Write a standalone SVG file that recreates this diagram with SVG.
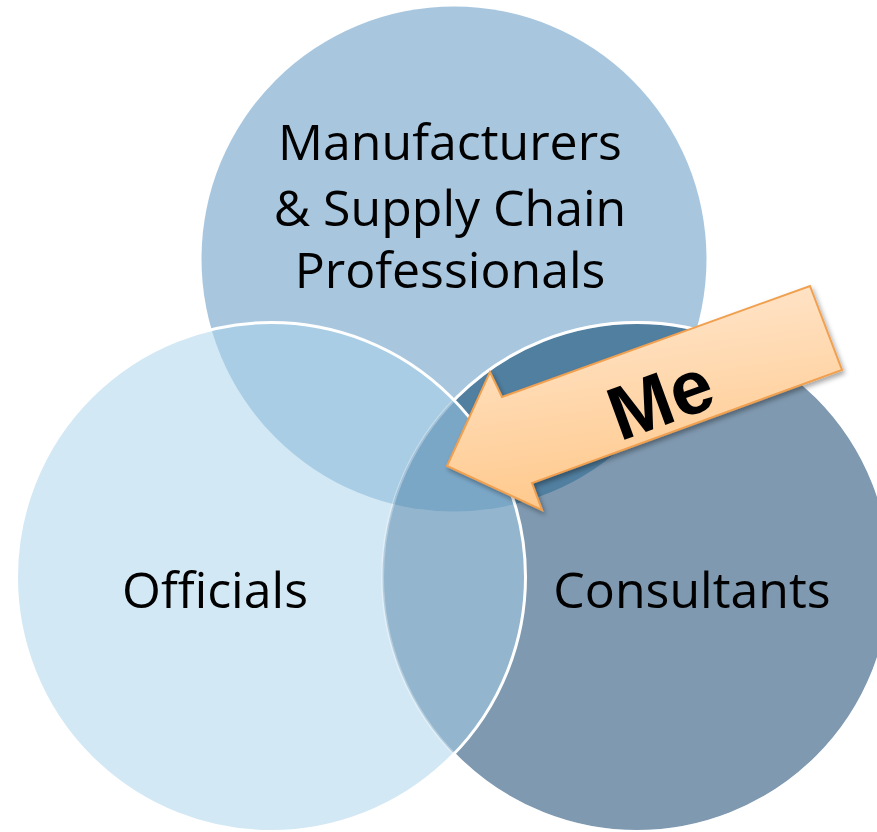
<svg xmlns="http://www.w3.org/2000/svg" width="877" height="832" viewBox="0 0 877 832">
<style>
.lbl{font-family:"Open Sans","Noto Sans","Liberation Sans",sans-serif;font-size:50px;fill:#000;text-anchor:middle}
.me{font-family:"Liberation Sans","Arial",sans-serif;font-weight:bold;font-size:76px;fill:#000;text-anchor:middle}
</style>
<defs>
<clipPath id="cT"><circle cx="454" cy="259" r="252.5"/></clipPath>
<clipPath id="cL"><circle cx="271" cy="577" r="254.5"/></clipPath>
<clipPath id="cR"><circle cx="637" cy="577" r="254.5"/></clipPath>
<mask id="outL"><rect width="877" height="832" fill="#fff"/><circle cx="271" cy="577" r="254.5" fill="#000"/></mask>
<linearGradient id="ag" x1="0" y1="0" x2="0.25" y2="1">
<stop offset="0" stop-color="#FFE9D4"/>
<stop offset="1" stop-color="#FFC98C"/>
</linearGradient>
<filter id="sh" x="-20%" y="-20%" width="140%" height="140%">
<feDropShadow dx="2" dy="3" stdDeviation="2.5" flood-color="#000" flood-opacity="0.35"/>
</filter>
</defs>
<g id="node-manufacturers">
<circle cx="454" cy="259" r="252.5" fill="#A8C7DF"/>
<text class="lbl" x="450" y="160">Manufacturers</text>
<text class="lbl" x="450" y="226">&amp; Supply Chain</text>
<text class="lbl" x="450" y="288">Professionals</text>
</g>
<g id="node-consultants">
<circle cx="637" cy="577" r="254.5" fill="#7F99B0"/>
<text class="lbl" x="692" y="608">Consultants</text>
</g>
<g id="node-officials">
<circle cx="271" cy="577" r="254.5" fill="#D3E8F5"/>
<text class="lbl" x="215" y="608">Officials</text>
</g>
<g id="overlaps">
<g clip-path="url(#cT)"><circle cx="271" cy="577" r="254.5" fill="#A8CDE4"/></g>
<g clip-path="url(#cT)"><circle cx="637" cy="577" r="254.5" fill="#517FA0"/></g>
<g clip-path="url(#cL)"><circle cx="637" cy="577" r="254.5" fill="#93B6CE"/></g>
<g clip-path="url(#cT)"><g clip-path="url(#cL)"><circle cx="637" cy="577" r="254.5" fill="#7BA7C7"/></g></g>
</g>
<g id="outlines" fill="none" stroke="#fff" stroke-width="3">
<circle cx="637" cy="577" r="254.5" stroke-opacity="0.3"/>
<circle cx="637" cy="577" r="254.5" mask="url(#outL)"/>
<circle cx="271" cy="577" r="254.5"/>
</g>
<g id="connectors">
<g id="node-me">
<polygon points="810,286 842,370 532,483 542,510 447,466 490,372 502,397" fill="url(#ag)" stroke="#F0A050" stroke-width="2" stroke-linejoin="miter" filter="url(#sh)"/>
<text class="me" transform="translate(660,398) rotate(-20)" x="0" y="27">Me</text>
</g>
</g>
</svg>
